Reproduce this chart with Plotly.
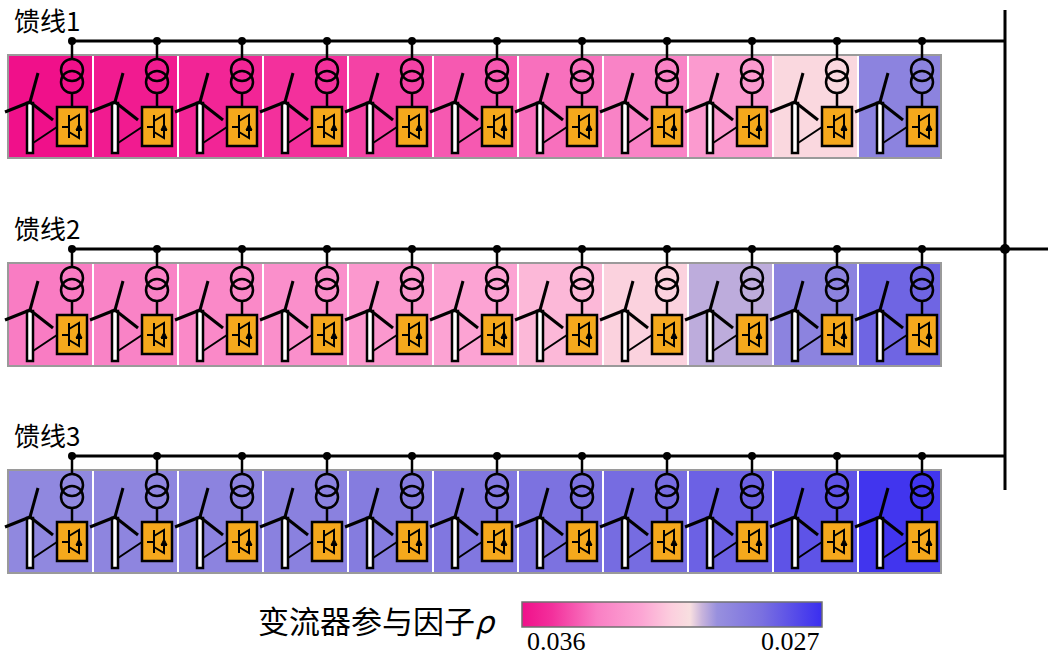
import plotly.graph_objects as go

feeders = ["馈线1", "馈线2", "馈线3"]
rho_f1 = [0.0360, 0.0357, 0.0354, 0.0351, 0.0348, 0.0344, 0.0340, 0.0336, 0.0328, 0.0312, 0.0296]
rho_f2 = [0.0338, 0.0336, 0.0334, 0.0332, 0.0329, 0.0325, 0.0320, 0.0314, 0.0305, 0.0296, 0.0285]
rho_f3 = [0.0298, 0.0297, 0.0296, 0.0295, 0.0293, 0.0291, 0.0289, 0.0287, 0.0284, 0.0280, 0.0272]
rho_rows = [rho_f1, rho_f2, rho_f3]
rho_max, rho_min = 0.036, 0.027
tick_labels = ["0.036", "0.027"]
cbar_title = "变流器参与因子<i>ρ</i>"

bus_y = [41, 249, 456]
n = 11
pitch = 85
cell_x0 = 8
tx0 = 72

colorscale = [[0, "#f0108a"], [0.1, "#f3309c"], [0.25, "#f97fc4"], [0.4, "#fca6d4"],
              [0.5, "#fccfde"], [0.56, "#f8dfe0"], [0.6, "#c8b4dc"], [0.65, "#9890de"],
              [0.8, "#7a70e0"], [1, "#3a2ef0"]]

fig = go.Figure()
shapes = []
ann = []
for r, (vals, L) in enumerate(zip(rho_rows, bus_y)):
    fig.add_trace(go.Heatmap(z=[[-v for v in vals]], x0=cell_x0 + pitch / 2, dx=pitch,
                             y0=L + 14 + 51.5, dy=103, xgap=2, coloraxis="coloraxis",
                             hoverinfo="skip"))
    shapes.append(dict(type="rect", x0=cell_x0, x1=cell_x0 + n * pitch - 2, y0=L + 14, y1=L + 117,
                       line=dict(color="#9a9a9a", width=2)))
    ann.append(dict(x=12, y=L - 22, text=feeders[r], showarrow=False, xanchor="left", yanchor="middle",
                    font=dict(size=26, family="Noto Sans CJK SC", color="black")))
    right = 1048 if r == 1 else 1005
    shapes.append(dict(type="line", x0=tx0, x1=right, y0=L, y1=L, line=dict(color="black", width=3)))
    for i in range(n):
        tx = tx0 + pitch * i
        blk = dict(color="black", width=2.5)
        shapes += [
            dict(type="circle", x0=tx - 4, x1=tx + 4, y0=L - 4, y1=L + 4, fillcolor="black", line=dict(width=0)),
            dict(type="line", x0=tx, x1=tx, y0=L, y1=L + 18, line=blk),
            dict(type="circle", x0=tx - 11, x1=tx + 11, y0=L + 18, y1=L + 40, line=blk),
            dict(type="circle", x0=tx - 11, x1=tx + 11, y0=L + 30, y1=L + 52, line=blk),
            dict(type="line", x0=tx, x1=tx, y0=L + 52, y1=L + 66, line=blk),
            dict(type="rect", x0=tx - 15, x1=tx + 15, y0=L + 66, y1=L + 105, fillcolor="#f5a81c", line=blk),
            dict(type="path", path=f"M {tx-3},{L+74} L {tx-3},{L+97} M {tx-3},{L+80} L {tx+7},{L+74} L {tx+7},{L+97} L {tx-3},{L+91} M {tx-10},{L+86} L {tx-3},{L+86} M {tx+4},{L+89} L {tx+10},{L+89}",
                 line=dict(color="black", width=2)),
            dict(type="path", path=f"M {tx+4},{L+89} L {tx+10},{L+89} L {tx+7},{L+83} Z", fillcolor="black",
                 line=dict(color="black", width=1)),
            dict(type="rect", x0=tx - 45, x1=tx - 39, y0=L + 62, y1=L + 112, fillcolor="white", line=blk),
            dict(type="line", x0=tx - 42, x1=tx - 34, y0=L + 61, y1=L + 32, line=dict(color="black", width=3)),
            dict(type="line", x0=tx - 42, x1=tx - 67, y0=L + 61, y1=L + 71, line=dict(color="black", width=3)),
            dict(type="line", x0=tx - 42, x1=tx - 19, y0=L + 61, y1=L + 79, line=dict(color="black", width=3)),
            dict(type="line", x0=tx - 39, x1=tx - 15, y0=L + 102, y1=L + 86, line=dict(color="black", width=2)),
        ]

shapes.append(dict(type="line", x0=1005, x1=1005, y0=10, y1=490, line=dict(color="black", width=3)))
shapes.append(dict(type="circle", x0=1000, x1=1010, y0=244, y1=254, fillcolor="black", line=dict(width=0)))

ann.append(dict(x=498, y=619, text=cbar_title, showarrow=False, xanchor="right", yanchor="middle",
                font=dict(size=31, family="Noto Sans CJK SC", color="black")))
for lbl, xc in zip(tick_labels, [556, 790]):
    ann.append(dict(x=xc, y=641, text=lbl, showarrow=False, xanchor="center", yanchor="middle",
                    font=dict(size=26, family="Liberation Serif", color="black")))

fig.update_layout(
    width=1048, height=660, margin=dict(l=0, r=0, t=0, b=0, autoexpand=False),
    plot_bgcolor="white", paper_bgcolor="white",
    xaxis=dict(range=[0, 1048], visible=False, fixedrange=True),
    yaxis=dict(range=[660, 0], visible=False, fixedrange=True),
    shapes=shapes, annotations=ann,
    coloraxis=dict(colorscale=colorscale, cmin=-rho_max, cmax=-rho_min,
                   colorbar=dict(orientation="h", x=672 / 1048, xanchor="center", y=1 - 602 / 660,
                                 yanchor="top", len=300, lenmode="pixels", thickness=25,
                                 outlinecolor="#707070", outlinewidth=1.5, ticks="", ypad=0, xpad=0,
                                 showticklabels=False)),
    showlegend=False,
)
fig.write_html("out.html", config={"displayModeBar": False},
               post_script="document.body.style.margin='0';document.body.style.overflow='hidden';")
